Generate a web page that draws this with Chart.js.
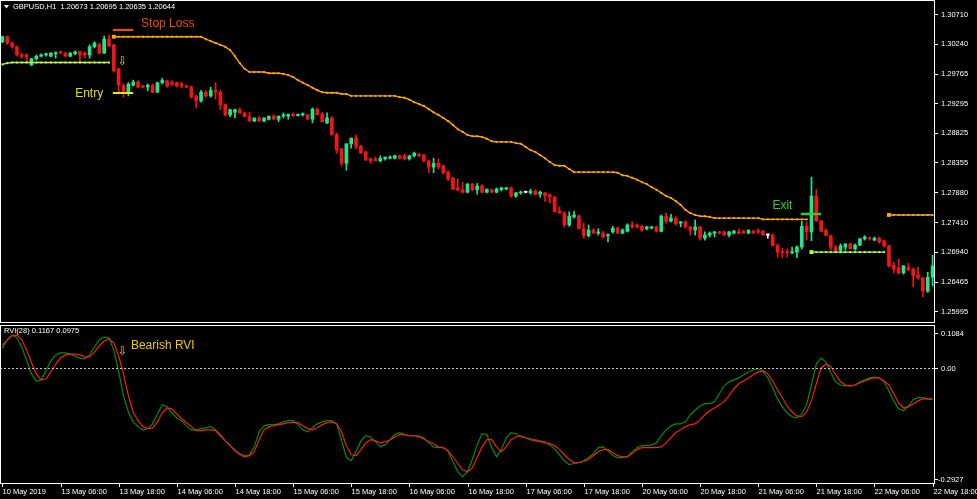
<!DOCTYPE html>
<html>
<head>
<meta charset="utf-8">
<script src="https://cdn.jsdelivr.net/npm/chart.js@4.4.1/dist/chart.umd.min.js"></script>
<style>
  html, body { margin: 0; padding: 0; background: #000; overflow: hidden; }
  canvas { position: absolute; left: 0; }
  #price { top: 0; }
  #rvi { top: 323px; }
</style>
</head>
<body>
<canvas id="price" width="977" height="323"></canvas>
<canvas id="rvi" width="977" height="176"></canvas>
<script>
// GBPUSD H1, one bar per hour, 10 May 18:00 -> 22 May 18:00
const opens = [
  1.3028,1.3036,1.3026,1.3020,1.3007,1.3007,1.2991,1.3001,1.3005,1.3007,
  1.3005,1.3009,1.3012,1.3010,1.3005,1.3009,1.3012,1.3010,1.3007,1.3020,
  1.3024,1.3010,1.3032,1.3023,1.2985,1.2959,1.2947,1.2959,1.2964,1.2958,
  1.2956,1.2959,1.2948,1.2963,1.2966,1.2963,1.2963,1.2961,1.2958,1.2956,
  1.2942,1.2934,1.2948,1.2942,1.2951,1.2948,1.2928,1.2912,1.2916,1.2920,
  1.2915,1.2909,1.2902,1.2907,1.2902,1.2905,1.2910,1.2905,1.2910,1.2910,
  1.2913,1.2911,1.2912,1.2912,1.2905,1.2921,1.2913,1.2899,1.2907,1.2881,
  1.2858,1.2835,1.2866,1.2875,1.2862,1.2853,1.2842,1.2842,1.2839,1.2842,
  1.2843,1.2843,1.2847,1.2847,1.2842,1.2847,1.2849,1.2848,1.2839,1.2829,
  1.2835,1.2831,1.2821,1.2812,1.2796,1.2793,1.2789,1.2802,1.2793,1.2799,
  1.2789,1.2793,1.2789,1.2793,1.2794,1.2796,1.2783,1.2788,1.2789,1.2788,
  1.2791,1.2786,1.2788,1.2785,1.2781,1.2759,1.2756,1.2737,1.2750,1.2751,
  1.2731,1.2720,1.2729,1.2724,1.2724,1.2720,1.2726,1.2732,1.2724,1.2727,
  1.2737,1.2737,1.2735,1.2731,1.2732,1.2734,1.2727,1.2751,1.2743,1.2748,
  1.2740,1.2742,1.2734,1.2729,1.2734,1.2716,1.2721,1.2724,1.2726,1.2726,
  1.2721,1.2724,1.2726,1.2727,1.2724,1.2727,1.2727,1.2727,1.2721,1.2721,
  1.2704,1.2694,1.2694,1.2693,1.2694,1.2702,1.2735,1.2726,1.2783,1.2743,
  1.2729,1.2720,1.2702,1.2697,1.2702,1.2707,1.2699,1.2705,1.2715,1.2716,
  1.2713,1.2716,1.2712,1.2704,1.2673,1.2669,1.2661,1.2670,1.2667,1.2658,
  1.2653,1.2632,1.2654
];
const highs = [
  1.3037,1.3037,1.3028,1.3021,1.3010,1.3009,1.3002,1.3007,1.3009,1.3010,
  1.3011,1.3012,1.3013,1.3011,1.3011,1.3013,1.3013,1.3012,1.3023,1.3028,
  1.3026,1.3037,1.3039,1.3024,1.2986,1.2961,1.2963,1.2967,1.2966,1.2959,
  1.2961,1.2961,1.2964,1.2970,1.2967,1.2966,1.2964,1.2964,1.2959,1.2958,
  1.2943,1.2951,1.2950,1.2956,1.2963,1.2951,1.2929,1.2921,1.2921,1.2923,
  1.2916,1.2916,1.2907,1.2909,1.2907,1.2910,1.2912,1.2910,1.2915,1.2913,
  1.2915,1.2913,1.2915,1.2913,1.2923,1.2923,1.2916,1.2915,1.2909,1.2883,
  1.2859,1.2866,1.2875,1.2880,1.2864,1.2854,1.2843,1.2845,1.2847,1.2845,
  1.2847,1.2848,1.2848,1.2850,1.2847,1.2853,1.2851,1.2849,1.2840,1.2843,
  1.2842,1.2832,1.2823,1.2813,1.2810,1.2805,1.2803,1.2803,1.2803,1.2801,
  1.2794,1.2794,1.2796,1.2797,1.2797,1.2797,1.2789,1.2791,1.2791,1.2794,
  1.2793,1.2791,1.2789,1.2786,1.2783,1.2766,1.2758,1.2758,1.2759,1.2753,
  1.2740,1.2737,1.2731,1.2731,1.2727,1.2723,1.2735,1.2734,1.2731,1.2739,
  1.2742,1.2739,1.2737,1.2735,1.2735,1.2735,1.2753,1.2756,1.2754,1.2750,
  1.2743,1.2743,1.2735,1.2745,1.2735,1.2726,1.2726,1.2727,1.2727,1.2727,
  1.2727,1.2729,1.2731,1.2729,1.2729,1.2729,1.2731,1.2729,1.2723,1.2723,
  1.2707,1.2700,1.2699,1.2702,1.2704,1.2743,1.2742,1.2813,1.2793,1.2745,
  1.2731,1.2721,1.2705,1.2707,1.2707,1.2708,1.2707,1.2716,1.2720,1.2718,
  1.2718,1.2718,1.2713,1.2705,1.2678,1.2683,1.2673,1.2676,1.2669,1.2670,
  1.2654,1.2662,1.2689
];
const lows = [
  1.3026,1.3024,1.3018,1.3005,1.3002,1.2996,1.2990,1.2999,1.3004,1.3005,
  1.3004,1.3002,1.3009,1.3005,1.3004,1.3007,1.2996,1.3002,1.3002,1.3018,
  1.3009,1.3009,1.3020,1.2980,1.2948,1.2940,1.2942,1.2958,1.2955,1.2955,
  1.2950,1.2947,1.2947,1.2961,1.2956,1.2958,1.2956,1.2955,1.2955,1.2939,
  1.2923,1.2932,1.2940,1.2940,1.2937,1.2920,1.2910,1.2909,1.2907,1.2915,
  1.2909,1.2902,1.2901,1.2902,1.2901,1.2904,1.2905,1.2901,1.2907,1.2905,
  1.2910,1.2910,1.2910,1.2905,1.2899,1.2912,1.2901,1.2898,1.2880,1.2851,
  1.2831,1.2824,1.2859,1.2858,1.2851,1.2840,1.2835,1.2839,1.2837,1.2840,
  1.2842,1.2842,1.2842,1.2840,1.2840,1.2845,1.2845,1.2837,1.2820,1.2820,
  1.2826,1.2818,1.2808,1.2793,1.2791,1.2788,1.2788,1.2791,1.2786,1.2788,
  1.2788,1.2789,1.2788,1.2791,1.2793,1.2781,1.2781,1.2786,1.2788,1.2786,
  1.2785,1.2781,1.2774,1.2772,1.2758,1.2756,1.2734,1.2735,1.2748,1.2731,
  1.2716,1.2718,1.2723,1.2721,1.2716,1.2710,1.2724,1.2724,1.2723,1.2726,
  1.2732,1.2732,1.2727,1.2729,1.2731,1.2726,1.2726,1.2740,1.2742,1.2737,
  1.2734,1.2732,1.2721,1.2721,1.2713,1.2713,1.2718,1.2718,1.2723,1.2721,
  1.2718,1.2723,1.2723,1.2724,1.2723,1.2724,1.2723,1.2721,1.2716,1.2704,
  1.2686,1.2685,1.2686,1.2691,1.2685,1.2699,1.2713,1.2712,1.2743,1.2727,
  1.2720,1.2697,1.2694,1.2694,1.2697,1.2699,1.2697,1.2704,1.2713,1.2713,
  1.2712,1.2708,1.2702,1.2670,1.2661,1.2659,1.2659,1.2664,1.2639,1.2651,
  1.2623,1.2630,1.2640
];
const closes = [
  1.3036,1.3026,1.3020,1.3007,1.3005,1.3004,1.3001,1.3005,1.3007,1.3009,
  1.3010,1.3010,1.3010,1.3005,1.3010,1.3012,1.3007,1.3007,1.3020,1.3026,
  1.3010,1.3032,1.3021,1.2982,1.2959,1.2947,1.2961,1.2964,1.2956,1.2956,
  1.2959,1.2948,1.2963,1.2967,1.2958,1.2961,1.2958,1.2958,1.2956,1.2940,
  1.2934,1.2948,1.2942,1.2951,1.2948,1.2928,1.2912,1.2920,1.2920,1.2915,
  1.2909,1.2902,1.2907,1.2902,1.2907,1.2910,1.2905,1.2910,1.2912,1.2913,
  1.2910,1.2913,1.2913,1.2905,1.2921,1.2912,1.2901,1.2907,1.2880,1.2856,
  1.2835,1.2866,1.2875,1.2862,1.2851,1.2840,1.2839,1.2839,1.2843,1.2845,
  1.2845,1.2847,1.2843,1.2842,1.2847,1.2851,1.2847,1.2839,1.2829,1.2835,
  1.2829,1.2820,1.2810,1.2794,1.2793,1.2789,1.2802,1.2793,1.2799,1.2789,
  1.2794,1.2789,1.2794,1.2796,1.2796,1.2783,1.2788,1.2789,1.2789,1.2791,
  1.2785,1.2789,1.2783,1.2781,1.2758,1.2756,1.2737,1.2751,1.2753,1.2731,
  1.2720,1.2729,1.2724,1.2726,1.2718,1.2721,1.2732,1.2724,1.2729,1.2737,
  1.2734,1.2734,1.2729,1.2734,1.2734,1.2727,1.2751,1.2743,1.2748,1.2739,
  1.2742,1.2734,1.2729,1.2734,1.2716,1.2721,1.2724,1.2726,1.2724,1.2721,
  1.2726,1.2727,1.2724,1.2724,1.2729,1.2724,1.2726,1.2721,1.2721,1.2704,
  1.2694,1.2693,1.2693,1.2694,1.2702,1.2735,1.2726,1.2783,1.2743,1.2727,
  1.2720,1.2702,1.2696,1.2704,1.2707,1.2699,1.2705,1.2715,1.2718,1.2715,
  1.2716,1.2710,1.2704,1.2672,1.2667,1.2661,1.2672,1.2666,1.2656,1.2653,
  1.2632,1.2654,1.2672
];

// orange trailing stop, first run starts at bar 23, second at bar 183
const stopStart = 23;
const stopLevels = [
  1.3036,1.3036,1.3036,1.3036,1.3036,1.3036,1.3036,1.3036,1.3036,1.3036,
  1.3036,1.3036,1.3036,1.3036,1.3036,1.3036,1.3036,1.3036,1.3036,1.3032,
  1.3029,1.3026,1.3023,1.3020,1.3015,1.3005,1.2994,1.2985,1.2980,1.2980,
  1.2980,1.2980,1.2978,1.2978,1.2978,1.2977,1.2975,1.2972,1.2967,1.2963,
  1.2959,1.2955,1.2951,1.2948,1.2947,1.2947,1.2947,1.2945,1.2945,1.2942,
  1.2942,1.2942,1.2942,1.2942,1.2942,1.2942,1.2942,1.2942,1.2942,1.2940,
  1.2939,1.2936,1.2932,1.2929,1.2926,1.2921,1.2916,1.2912,1.2907,1.2902,
  1.2896,1.2889,1.2885,1.2880,1.2878,1.2878,1.2877,1.2874,1.2870,1.2869,
  1.2869,1.2869,1.2869,1.2867,1.2866,1.2861,1.2856,1.2853,1.2848,1.2843,
  1.2837,1.2832,1.2831,1.2831,1.2826,1.2821,1.2821,1.2821,1.2821,1.2821,
  1.2821,1.2821,1.2821,1.2821,1.2820,1.2816,1.2815,1.2812,1.2809,1.2805,
  1.2802,1.2797,1.2793,1.2788,1.2783,1.2780,1.2775,1.2769,1.2761,1.2756,
  1.2753,1.2751,1.2751,1.2750,1.2748,1.2748,1.2748,1.2748,1.2748,1.2748,
  1.2748,1.2748,1.2748,1.2748,1.2746,1.2746,1.2746,1.2746,1.2746,1.2746,
  1.2746,1.2746,1.2746,1.2746
];
const stopStart2 = 183;
const stopLevels2 = [1.2753,1.2753,1.2753,1.2753,1.2753,1.2753,1.2753,1.2753,1.2753,1.2753];

// yellow-green support line
const supportStart = 0;
const supportLevels = [
  1.2992,1.2994,1.2995,1.2995,1.2995,1.2995,1.2995,1.2995,1.2995,1.2995,
  1.2995,1.2995,1.2995,1.2995,1.2995,1.2995,1.2995,1.2995,1.2995,1.2995,
  1.2995,1.2995,1.2995
];
const supportStart2 = 167;
const supportLevels2 = [1.2694,1.2694,1.2694,1.2694,1.2694,1.2694,1.2694,1.2694,
  1.2694,1.2694,1.2694,1.2694,1.2694,1.2694,1.2694,1.2694];

// RVI(28): main (green) and signal (red)
const rviMain = [
  .050,.071,.083,.076,.053,.020,-.015,-.033,-.030,-.007,
  .018,.033,.038,.038,.035,.030,.025,.023,.033,.053,
  .071,.078,.076,.045,-.010,-.070,-.111,-.136,-.148,-.156,
  -.153,-.141,-.116,-.093,-.098,-.113,-.126,-.133,-.146,-.156,
  -.156,-.153,-.151,-.148,-.156,-.168,-.184,-.196,-.206,-.216,
  -.221,-.219,-.199,-.161,-.146,-.143,-.143,-.141,-.136,-.133,
  -.133,-.143,-.156,-.161,-.151,-.141,-.136,-.133,-.133,-.141,
  -.181,-.226,-.234,-.211,-.184,-.171,-.174,-.186,-.199,-.194,
  -.181,-.168,-.163,-.168,-.171,-.171,-.171,-.176,-.189,-.199,
  -.201,-.201,-.211,-.236,-.262,-.274,-.262,-.231,-.194,-.166,
  -.168,-.201,-.224,-.206,-.176,-.163,-.166,-.174,-.176,-.179,
  -.181,-.184,-.186,-.194,-.204,-.219,-.234,-.244,-.241,-.239,
  -.234,-.226,-.216,-.201,-.199,-.209,-.221,-.226,-.226,-.224,
  -.211,-.201,-.196,-.196,-.194,-.189,-.171,-.156,-.146,-.141,
  -.141,-.136,-.118,-.106,-.096,-.090,-.090,-.085,-.065,-.045,
  -.035,-.030,-.025,-.017,-.010,-.005,-.002,-.010,-.025,-.050,
  -.078,-.098,-.113,-.123,-.126,-.116,-.093,-.043,.010,.025,
  .015,-.012,-.035,-.043,-.045,-.045,-.043,-.035,-.030,-.025,
  -.023,-.025,-.035,-.058,-.083,-.103,-.108,-.096,-.080,-.075,
  -.075,-.078,-.080
];
const rviSignal = [
  .058,.071,.081,.083,.071,.045,.013,-.015,-.030,-.028,
  -.010,.010,.025,.033,.035,.035,.033,.028,.028,.040,
  .056,.068,.073,.063,.030,-.015,-.070,-.111,-.133,-.148,
  -.153,-.151,-.136,-.113,-.101,-.103,-.116,-.128,-.138,-.148,
  -.158,-.158,-.156,-.156,-.158,-.171,-.184,-.196,-.209,-.219,
  -.224,-.221,-.211,-.181,-.156,-.148,-.146,-.143,-.141,-.138,
  -.138,-.138,-.146,-.153,-.156,-.151,-.143,-.138,-.136,-.141,
  -.161,-.196,-.219,-.221,-.206,-.189,-.181,-.184,-.189,-.186,
  -.181,-.174,-.168,-.168,-.171,-.171,-.174,-.179,-.186,-.191,
  -.199,-.201,-.209,-.224,-.241,-.257,-.262,-.252,-.226,-.199,
  -.181,-.181,-.199,-.211,-.199,-.181,-.174,-.171,-.176,-.181,
  -.184,-.186,-.189,-.191,-.196,-.206,-.219,-.231,-.239,-.239,
  -.236,-.231,-.221,-.211,-.206,-.206,-.214,-.221,-.224,-.224,
  -.216,-.206,-.201,-.201,-.201,-.201,-.199,-.189,-.176,-.163,
  -.156,-.148,-.143,-.141,-.131,-.118,-.108,-.101,-.093,-.085,
  -.070,-.053,-.040,-.033,-.025,-.017,-.010,-.007,-.015,-.033,
  -.055,-.075,-.096,-.111,-.121,-.123,-.111,-.083,-.040,.000,
  .010,.003,-.017,-.035,-.043,-.045,-.043,-.038,-.033,-.028,
  -.025,-.025,-.033,-.043,-.065,-.088,-.101,-.098,-.090,-.083,
  -.078,-.078,-.078
];

const priceTicks = [1.30710,1.30240,1.29765,1.29295,1.28825,1.28355,1.27880,1.27410,1.26940,1.26465,1.25995];
const timeLabels = ['10 May 2019','13 May 06:00','13 May 18:00','14 May 06:00','14 May 18:00',
  '15 May 06:00','15 May 18:00','16 May 06:00','16 May 18:00','17 May 06:00','17 May 18:00',
  '20 May 06:00','20 May 18:00','21 May 06:00','21 May 18:00','22 May 06:00','22 May 18:00'];
const barsPerLabel = 12;
const rviTop = 0.1084, rviBottom = -0.2927;

// trade marks
const entryBar = 23, stopLossPrice = 1.3046, entryPrice = 1.2946;
const exitBar = 167, exitPrice = 1.2754;

const FONT = '"Liberation Sans", Arial, sans-serif';
const BULL = '#20e58c', BEAR = '#f51414', DOJI = '#ffffff';
const ORANGE = '#ffa500', LIME = '#adff2f';

const barIndex = opens.map((_, i) => i);
const candleColors = opens.map((o, i) => closes[i] > o ? BULL : closes[i] < o ? BEAR : DOJI);
const bodies = opens.map((o, i) => [o, closes[i]]);
const wicks = lows.map((l, i) => [l, highs[i]]);

function placeRuns(runs) {
  const out = barIndex.map(() => null);
  runs.forEach(([start, vals]) => vals.forEach((v, k) => { out[start + k] = v; }));
  return out;
}
const stopSeries = placeRuns([[stopStart, stopLevels], [stopStart2, stopLevels2]]);
const supportSeries = placeRuns([[supportStart, supportLevels], [supportStart2, supportLevels2]]);
const runStarts = [stopStart, stopStart2, supportStart2];

const frame = {
  id: 'frame',
  afterDraw(chart) {
    const { ctx, chartArea: a } = chart;
    ctx.save();
    ctx.strokeStyle = '#fff';
    ctx.lineWidth = 1;
    ctx.strokeRect(a.left + 0.5, a.top + 0.5, a.right - a.left - 1, a.bottom - a.top - 1);
    ctx.restore();
  }
};

const priceMarks = {
  id: 'priceMarks',
  afterDatasetsDraw(chart) {
    const { ctx, scales: { x, y } } = chart;
    ctx.save();
    const hline = (i0, i1, p, color, w) => {
      ctx.strokeStyle = color; ctx.lineWidth = w;
      ctx.beginPath();
      ctx.moveTo(x.getPixelForValue(i0) - 1, Math.round(y.getPixelForValue(p)));
      ctx.lineTo(x.getPixelForValue(i1), Math.round(y.getPixelForValue(p)));
      ctx.stroke();
    };
    hline(entryBar, entryBar + 4, stopLossPrice, '#ff4500', 2);
    hline(entryBar, entryBar + 4, entryPrice, '#e8e800', 2);
    hline(exitBar - 2, exitBar + 2, exitPrice, '#32cd32', 2.5);

    ctx.font = '12px ' + FONT;
    ctx.textBaseline = 'middle';
    ctx.fillStyle = '#f04a10';
    ctx.textAlign = 'left';
    ctx.fillText('Stop Loss', x.getPixelForValue(entryBar + 5) + 3, y.getPixelForValue(1.3056));
    ctx.fillStyle = '#e0e000';
    ctx.textAlign = 'right';
    ctx.fillText('Entry', x.getPixelForValue(entryBar - 2) - 1, y.getPixelForValue(entryPrice));
    ctx.fillStyle = '#32cd32';
    ctx.textAlign = 'center';
    ctx.fillText('Exit', x.getPixelForValue(exitBar - 6), y.getPixelForValue(1.2768));

    ctx.font = '12px "DejaVu Sans"';
    ctx.fillStyle = '#f0c030';
    ctx.fillText('\u21e9', x.getPixelForValue(entryBar + 2) - 1, y.getPixelForValue(1.2996));

    ctx.font = '7.5px ' + FONT;
    ctx.fillStyle = '#fff';
    ctx.textAlign = 'left';
    ctx.fillText('GBPUSD,H1  1.20673 1.20695 1.20635 1.20644', 13, 7);
    ctx.beginPath();
    ctx.moveTo(4, 5); ctx.lineTo(9, 5); ctx.lineTo(6.5, 8.5); ctx.closePath();
    ctx.fill();
    ctx.restore();
  }
};

const rviMarks = {
  id: 'rviMarks',
  afterDatasetsDraw(chart) {
    const { ctx, chartArea: a, scales: { x, y } } = chart;
    ctx.save();
    // zero level
    const y0 = Math.round(y.getPixelForValue(0)) + 0.5;
    ctx.strokeStyle = '#c8c8c8';
    ctx.lineWidth = 1;
    ctx.setLineDash([2, 2]);
    ctx.beginPath(); ctx.moveTo(a.left, y0); ctx.lineTo(a.right + 4, y0); ctx.stroke();
    ctx.setLineDash([]);

    ctx.textBaseline = 'middle';
    ctx.font = '12px ' + FONT;
    ctx.fillStyle = '#f0c800';
    ctx.fillText('Bearish RVI', x.getPixelForValue(entryBar + 3) + 2.5, y.getPixelForValue(0.056));
    ctx.font = '12px "DejaVu Sans"';
    ctx.fillStyle = '#f0c030';
    ctx.textAlign = 'center';
    ctx.fillText('\u21e9', x.getPixelForValue(entryBar + 2) - 1, y.getPixelForValue(0.040));

    ctx.font = '7.5px ' + FONT;
    ctx.fillStyle = '#fff';
    ctx.textAlign = 'left';
    ctx.fillText('RVI(28) 0.1167 0.0975', 4, a.top + 6);

    // right axis labels
    ctx.strokeStyle = '#fff';
    [[rviTop, 8], [0, 0], [rviBottom, -5]].forEach(([v, dy]) => {
      const py = Math.round(y.getPixelForValue(v)) + 0.5;
      ctx.beginPath(); ctx.moveTo(a.right, py + dy); ctx.lineTo(a.right + 3, py + dy); ctx.stroke();
      const txt = v === 0 ? '0.00' : v.toFixed(4);
      ctx.fillText(txt, a.right + (v < 0 ? 3 : 6), py + dy);
    });

    // time axis
    timeLabels.forEach((t, k) => {
      const px = Math.round(x.getPixelForValue(k * barsPerLabel)) + 0.5;
      ctx.beginPath(); ctx.moveTo(px, a.bottom); ctx.lineTo(px, a.bottom + 3); ctx.stroke();
      ctx.fillText(t, px, a.bottom + 8);
    });
    ctx.restore();
  }
};

const fixAxis = s => { s.width = 42; s.paddingTop = 0; s.paddingBottom = 0; };

new Chart(document.getElementById('price'), {
  type: 'bar',
  data: {
    labels: barIndex,
    datasets: [
      {
        type: 'line', label: 'Stop', data: stopSeries, order: 0,
        borderColor: ORANGE, borderWidth: 1.4, spanGaps: false,
        pointStyle: 'rect', pointBackgroundColor: ORANGE, pointBorderWidth: 0,
        pointRadius: c => runStarts.includes(c.dataIndex) ? 2.8 : 1.4
      },
      {
        type: 'line', label: 'Support', data: supportSeries, order: 0,
        borderColor: LIME, borderWidth: 1.4, spanGaps: false,
        pointStyle: 'rect', pointBackgroundColor: LIME, pointBorderWidth: 0,
        pointRadius: c => runStarts.includes(c.dataIndex) ? 2.8 : 1.4
      },
      {
        label: 'Body', data: bodies, order: 1, grouped: false,
        backgroundColor: candleColors, barThickness: 3, minBarLength: 1
      },
      {
        label: 'Wick', data: wicks, order: 2, grouped: false,
        backgroundColor: candleColors, barThickness: 1
      }
    ]
  },
  options: {
    responsive: false,
    animation: false,
    devicePixelRatio: 1,
    events: [],
    layout: { autoPadding: false, padding: 0 },
    plugins: { legend: { display: false }, tooltip: { enabled: false } },
    scales: {
      x: { display: false, offset: true },
      y: {
        position: 'right',
        min: 1.25814,
        max: 1.30943,
        afterBuildTicks: s => { s.ticks = priceTicks.map(v => ({ value: v })); },
        afterFit: fixAxis,
        border: { display: false },
        grid: { drawOnChartArea: false, color: '#fff', tickLength: 3 },
        ticks: {
          color: '#fff', padding: 3,
          font: { family: FONT, size: 7.5 },
          callback: v => Number(v).toFixed(5)
        }
      }
    }
  },
  plugins: [frame, priceMarks]
});

new Chart(document.getElementById('rvi'), {
  type: 'line',
  data: {
    labels: barIndex,
    datasets: [
      { label: 'Signal', data: rviSignal, order: 0, borderColor: '#ff1a1a', borderWidth: 1.2, pointRadius: 0 },
      { label: 'RVI', data: rviMain, order: 1, borderColor: '#009000', borderWidth: 1.2, pointRadius: 0 }
    ]
  },
  options: {
    responsive: false,
    animation: false,
    devicePixelRatio: 1,
    events: [],
    layout: { autoPadding: false, padding: { left: 0, right: 0, top: 2, bottom: 15 } },
    plugins: { legend: { display: false }, tooltip: { enabled: false } },
    scales: {
      x: { display: false, offset: true },
      y: {
        position: 'right',
        min: rviBottom,
        max: rviTop,
        afterFit: fixAxis,
        border: { display: false },
        grid: { display: false },
        ticks: { display: false }
      }
    }
  },
  plugins: [frame, rviMarks]
});
</script>
</body>
</html>
